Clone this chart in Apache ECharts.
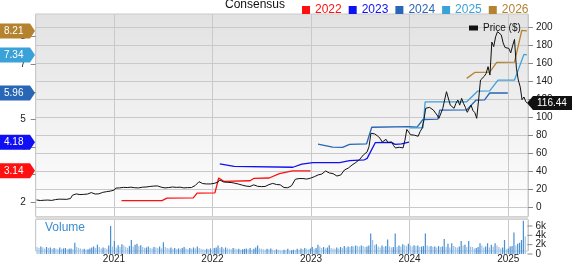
<!DOCTYPE html>
<html><head><meta charset="utf-8">
<script src="https://cdn.jsdelivr.net/npm/echarts@6/dist/echarts.min.js"></script>
<style>html,body{margin:0;padding:0;background:#fff}#c{width:572px;height:264px}</style>
</head><body><div id="c"></div>
<script>
// ---------- DATA ----------
const priceData = [
['2020-03-20',8.6],['2020-03-27',8.2],['2020-04-03',8.0],['2020-04-10',8.7],['2020-04-17',8.3],['2020-04-24',8.9],
['2020-05-01',8.5],['2020-05-08',7.9],['2020-05-15',8.1],['2020-05-22',8.6],['2020-05-29',9.0],['2020-06-05',10.2],
['2020-06-12',9.5],['2020-06-19',9.9],['2020-06-26',9.4],['2020-07-03',9.6],['2020-07-10',9.3],['2020-07-17',9.8],
['2020-07-24',10.2],['2020-07-31',13.8],['2020-08-07',16.0],['2020-08-14',15.3],['2020-08-21',15.0],['2020-08-28',14.6],
['2020-09-04',14.4],['2020-09-11',14.8],['2020-09-18',15.6],['2020-09-25',15.2],['2020-10-02',16.2],['2020-10-09',16.8],
['2020-10-16',16.0],['2020-10-23',15.2],['2020-10-30',14.8],['2020-11-06',15.4],['2020-11-13',16.4],['2020-11-20',17.0],
['2020-11-27',16.6],['2020-12-04',17.8],['2020-12-11',18.6],['2020-12-18',18.4],['2020-12-25',19.6],
['2021-01-01',19.5],['2021-01-08',21.8],['2021-01-15',23.3],['2021-01-22',22.0],['2021-01-29',21.4],['2021-02-05',22.6],
['2021-02-12',21.8],['2021-02-19',22.4],['2021-02-26',21.2],['2021-03-05',22.8],['2021-03-12',21.6],['2021-03-19',22.2],
['2021-03-26',21.4],['2021-04-02',22.0],['2021-04-09',21.7],['2021-04-16',22.8],['2021-04-23',22.2],['2021-04-30',23.0],
['2021-05-07',22.4],['2021-05-14',23.6],['2021-05-21',22.8],['2021-05-28',24.0],['2021-06-04',25.2],['2021-06-11',24.2],
['2021-06-18',23.2],['2021-06-25',22.8],['2021-07-02',23.4],['2021-07-09',22.0],['2021-07-16',21.6],['2021-07-23',22.4],
['2021-07-30',22.0],['2021-08-06',23.0],['2021-08-13',22.2],['2021-08-20',22.6],['2021-08-27',22.0],['2021-09-03',22.8],
['2021-09-10',22.4],['2021-09-17',22.0],['2021-09-24',22.6],['2021-10-01',22.3],['2021-10-08',23.0],['2021-10-15',22.4],
['2021-10-22',23.4],['2021-10-29',24.6],['2021-11-05',26.8],['2021-11-12',28.9],['2021-11-19',27.6],['2021-11-26',26.8],
['2021-12-03',26.0],['2021-12-10',26.4],['2021-12-17',25.6],['2021-12-24',26.4],['2021-12-31',26.6],
['2022-01-07',27.0],['2022-01-14',26.6],['2022-01-21',28.4],['2022-01-28',30.8],['2022-02-04',29.6],['2022-02-11',28.6],
['2022-02-18',28.9],['2022-02-25',28.2],['2022-03-04',29.0],['2022-03-11',28.0],['2022-03-18',27.6],['2022-03-25',27.2],
['2022-04-01',27.0],['2022-04-08',26.2],['2022-04-15',25.4],['2022-04-22',25.0],['2022-04-29',24.2],['2022-05-06',24.0],
['2022-05-13',23.2],['2022-05-20',23.6],['2022-05-27',24.6],['2022-06-03',25.4],['2022-06-10',25.2],['2022-06-17',23.8],
['2022-06-24',24.0],['2022-07-01',23.4],['2022-07-08',23.2],['2022-07-15',23.6],['2022-07-22',24.4],['2022-07-29',25.6],
['2022-08-05',26.4],['2022-08-12',27.0],['2022-08-19',26.6],['2022-08-26',25.8],['2022-09-02',25.0],['2022-09-09',25.4],
['2022-09-16',24.0],['2022-09-23',22.4],['2022-09-30',21.5],['2022-10-07',22.2],['2022-10-14',22.6],['2022-10-21',24.4],
['2022-10-28',26.0],['2022-11-04',31.6],['2022-11-11',32.8],['2022-11-18',32.4],['2022-11-25',33.0],['2022-12-02',32.4],
['2022-12-09',32.0],['2022-12-16',31.8],['2022-12-23',32.4],['2022-12-30',32.8],
['2023-01-06',33.4],['2023-01-13',34.4],['2023-01-20',35.6],['2023-01-27',36.4],['2023-02-03',38.0],['2023-02-10',37.4],
['2023-02-17',39.0],['2023-02-24',40.8],['2023-03-03',40.0],['2023-03-10',38.6],['2023-03-17',37.4],['2023-03-24',37.8],
['2023-03-31',36.6],['2023-04-07',35.2],['2023-04-14',36.0],['2023-04-21',36.3],['2023-04-28',38.2],['2023-05-05',41.9],
['2023-05-12',42.4],['2023-05-19',44.0],['2023-05-26',46.0],['2023-06-02',47.4],['2023-06-09',48.2],['2023-06-16',50.2],
['2023-06-23',51.0],['2023-06-30',53.6],['2023-07-07',55.0],['2023-07-14',58.6],['2023-07-21',59.4],['2023-07-28',62.0],
['2023-08-04',68.0],['2023-08-11',82.7],['2023-08-18',80.8],['2023-08-25',82.0],['2023-09-01',82.7],['2023-09-08',79.0],
['2023-09-15',76.4],['2023-09-22',73.0],['2023-09-29',74.8],['2023-10-06',76.0],['2023-10-13',72.4],['2023-10-20',71.6],
['2023-10-27',73.0],['2023-11-03',69.0],['2023-11-10',66.4],['2023-11-17',66.0],['2023-11-24',67.2],['2023-12-01',65.8],
['2023-12-08',66.4],['2023-12-15',75.0],['2023-12-22',87.0],['2023-12-29',84.0],
['2024-01-05',81.0],['2024-01-12',79.0],['2024-01-19',80.6],['2024-01-26',78.6],['2024-02-02',79.4],['2024-02-09',84.4],
['2024-02-16',88.0],['2024-02-23',97.0],['2024-03-01',110.4],['2024-03-08',109.0],['2024-03-15',111.5],['2024-03-22',110.0],
['2024-03-29',108.6],['2024-04-05',106.7],['2024-04-12',103.0],['2024-04-19',99.3],['2024-04-26',101.0],['2024-05-03',110.0],
['2024-05-10',119.7],['2024-05-17',128.9],['2024-05-24',127.0],['2024-05-31',114.0],['2024-06-07',112.0],['2024-06-14',110.4],
['2024-06-21',116.0],['2024-06-28',119.7],['2024-07-05',114.0],['2024-07-12',121.5],['2024-07-19',116.0],['2024-07-26',111.5],
['2024-08-02',106.0],['2024-08-09',104.9],['2024-08-16',114.0],['2024-08-23',108.0],['2024-08-30',105.6],['2024-09-06',99.3],
['2024-09-13',119.7],['2024-09-20',141.9],['2024-09-27',143.8],['2024-10-04',146.0],['2024-10-11',149.3],['2024-10-18',156.7],
['2024-10-25',147.4],['2024-11-01',184.0],['2024-11-08',179.0],['2024-11-15',190.0],['2024-11-22',195.6],['2024-11-29',196.0],
['2024-12-06',192.0],['2024-12-13',183.0],['2024-12-20',178.0],['2024-12-27',176.0],
['2025-01-03',177.0],['2025-01-10',172.0],['2025-01-17',180.0],['2025-01-24',187.0],['2025-01-31',155.0],['2025-02-07',141.9],
['2025-02-14',134.4],['2025-02-21',120.0],['2025-02-28',123.0],['2025-03-07',117.8],['2025-03-11',116.44]
];

const eps2022 = [['2021-01-29',2.06],['2021-06-28',2.06],['2021-07-16',2.15],['2021-10-22',2.16],['2021-11-05',2.33],
['2022-01-10',2.34],['2022-01-24',2.88],['2022-02-12',2.76],['2022-05-20',2.78],['2022-06-04',2.87],['2022-07-30',2.88],
['2022-09-06',3.04],['2022-10-24',3.14],['2022-12-30',3.14]];
const eps2023 = [['2022-01-28',3.39],['2022-03-22',3.30],['2022-10-26',3.27],['2022-11-28',3.38],['2023-01-08',3.44],
['2023-04-17',3.44],['2023-05-24',3.51],['2023-07-18',3.54],['2023-07-28',3.59],['2023-08-27',4.16],['2023-10-25',4.17],
['2023-11-09',4.10],['2023-12-02',4.12],['2023-12-30',4.18]];
const eps2024 = [['2023-01-27',4.11],['2023-03-22',4.00],['2023-04-28',3.99],['2023-05-24',4.10],['2023-07-26',4.12],
['2023-08-14',4.72],['2023-12-30',4.74],['2024-01-29',4.72],['2024-02-20',5.00],['2024-04-15',5.01],['2024-04-22',5.34],
['2024-07-31',5.35],['2024-09-03',5.70],['2024-10-05',5.71],['2024-10-24',5.96],['2024-12-30',5.96]];
const eps2025 = [['2024-01-03',4.70],['2024-02-20',4.70],['2024-02-28',5.64],['2024-07-31',5.64],['2024-09-10',6.03],
['2024-10-24',6.04],['2024-11-24',6.43],['2025-01-24',6.43],['2025-02-28',7.36],['2025-03-11',7.34]];
const eps2026 = [['2024-07-31',6.49],['2024-08-31',6.71],['2024-10-24',6.72],['2024-11-19',7.07],['2025-01-24',7.08],
['2025-02-20',8.23],['2025-03-11',8.21]];

const volumeStart = '2020-03-20'; // weekly bars
const volumes = [ // thousands
1.5,1.3,1.6,1.4,1.2,1.5,1.3,1.4,1.1,1.3,
1.2,1.0,1.4,1.1,1.2,1.3,1.0,1.1,1.2,1.0,
2.4,1.5,1.3,1.2,1.0,1.1,0.9,1.0,1.2,1.4,
1.6,1.3,2.0,1.5,1.2,1.4,1.3,1.1,1.8,6.0,
1.6,2.8,1.4,1.9,1.5,2.1,1.8,1.5,1.3,1.7,
3.0,1.6,2.0,2.2,1.7,1.9,1.5,1.3,1.4,1.6,
1.3,1.2,1.5,1.4,1.3,1.6,1.2,2.5,1.5,1.3,
1.2,1.4,1.1,1.3,1.0,1.2,1.1,1.3,1.5,1.2,
1.0,1.3,1.1,1.4,1.2,1.6,1.3,1.1,1.0,0.9,
1.1,1.0,1.2,0.9,1.3,1.4,1.8,1.3,1.5,1.2,
1.4,1.2,1.1,1.0,1.3,1.2,1.0,1.1,0.9,1.0,
1.1,1.2,1.0,1.3,0.9,1.1,1.4,1.8,1.2,1.1,
1.0,0.9,1.1,1.0,1.2,0.9,0.8,1.0,0.9,0.8,
0.7,0.9,0.8,1.1,0.7,0.8,0.9,0.8,1.1,0.9,
1.2,1.0,1.3,1.1,1.0,1.2,1.5,1.1,1.3,2.0,
1.6,1.3,1.5,1.2,1.4,1.9,1.3,1.2,1.1,1.4,
1.2,1.5,1.3,1.7,1.4,1.6,1.5,1.7,1.6,1.8,
1.7,1.6,1.8,1.7,1.5,1.6,1.8,4.4,3.0,1.9,
2.1,1.6,1.4,1.8,1.5,1.7,3.1,1.6,1.4,1.5,
4.4,1.5,1.8,1.6,2.1,1.9,1.7,2.2,1.8,1.6,
1.9,1.7,1.8,1.5,1.6,1.7,4.4,1.8,1.6,1.7,
1.5,1.6,1.4,1.7,1.5,1.6,3.2,1.5,2.2,1.4,
2.3,1.7,1.5,1.4,1.6,2.8,1.8,2.0,1.5,2.8,
1.6,1.5,1.2,1.3,1.5,2.3,1.8,1.4,1.6,2.3,
1.4,2.0,1.6,2.3,1.8,1.5,1.2,1.4,3.0,1.0,
1.2,1.6,1.7,4.6,1.8,2.2,2.4,3.0,7.1,3.8
];
const volumeTicks = [0, 2, 4, 6];

const epsYears = ['2022','2023','2024','2025','2026'];
const epsSets = [eps2022, eps2023, eps2024, eps2025, eps2026];
const priceName = 'Price ($)';

// ---------- STYLE ----------
const FONT = '"Liberation Sans", Arial, sans-serif';
const COLORS = ['#ff1010', '#1010f5', '#2866b6', '#3aa2d8', '#b5822f'];
const GRID_C = '#c9c9c9';
const DAY = 86400000;
const ts = s => Date.UTC(+s.slice(0,4), +s.slice(5,7)-1, +s.slice(8,10));
const X_MIN = ts('2020-03-17'), X_MAX = ts('2025-03-15');
const L = 35.7, R = 44;

const baseX = (gi, extra) => Object.assign({
  type: 'time', gridIndex: gi, min: X_MIN, max: X_MAX,
  axisLine: {show: false}, axisTick: {show: false}, axisLabel: {show: false}, splitLine: {show: false}
}, extra || {});
const yearX = (gi, showLabel) => baseX(gi, {
  minInterval: 365 * DAY, splitNumber: 5,
  splitLine: {show: true, lineStyle: {color: GRID_C, width: 1}},
  axisLabel: {show: showLabel, margin: 3, fontFamily: FONT, fontSize: 10, color: '#222',
    showMinLabel: false, showMaxLabel: false,
    formatter: v => { const d = new Date(v); return (d.getUTCMonth() === 0 && d.getUTCDate() === 1) ? String(d.getUTCFullYear()) : ''; }}
});
const dummyY = gi => ({type: 'value', gridIndex: gi, min: 0, max: 1, show: false});

const volData = volumes.map((v, i) => [ts(volumeStart) + i * 7 * DAY, v]);

const epsSeries = epsSets.map((set, i) => ({
  name: epsYears[i], type: 'line', xAxisIndex: 2, yAxisIndex: 2, clip: false,
  data: set.map(d => [ts(d[0]), d[1]]), symbol: 'none', z: 3,
  lineStyle: {color: COLORS[i], width: 1.3}, itemStyle: {color: COLORS[i]}
}));

const flagData = epsSets.map((set, i) => [X_MIN, set[set.length - 1][1], i]);
const lastPrice = priceData[priceData.length - 1];

const option = {
  animation: false,
  useUTC: true,
  backgroundColor: '#fff',
  textStyle: {fontFamily: FONT},
  grid: [
    {left: L, right: R, top: 14, height: 202.5, show: true, borderColor: GRID_C, borderWidth: 1,
      backgroundColor: {type: 'linear', x: 0, y: 0, x2: 0, y2: 1, colorStops: [{offset: 0, color: '#e2e2e2'}, {offset: 1, color: '#ffffff'}]}},
    {left: L, right: R, top: 27.7, height: 180},
    {left: L, right: R, top: 36.7, height: 165.6},
    {left: L, right: R, top: 219.5, height: 34.5, show: true, borderColor: GRID_C, borderWidth: 1, backgroundColor: '#fff'},
    {left: L, right: R, top: 226, height: 28}
  ],
  xAxis: [yearX(0, false), baseX(1), baseX(2), yearX(3, true), baseX(4)],
  yAxis: [
    dummyY(0),
    {type: 'value', gridIndex: 1, position: 'right', min: 0, max: 200, interval: 20,
      axisLine: {show: false}, axisTick: {show: true, length: 5, lineStyle: {color: '#888'}},
      axisLabel: {margin: 8, fontFamily: FONT, fontSize: 10, color: '#222', showMinLabel: true, showMaxLabel: true},
      splitLine: {show: true, lineStyle: {color: GRID_C, width: 1}}},
    {type: 'value', gridIndex: 2, position: 'left', min: 2, max: 8, interval: 1,
      axisLine: {show: false}, axisTick: {show: true, length: 5, lineStyle: {color: '#888'}},
      axisLabel: {margin: 10, fontFamily: FONT, fontSize: 10, color: '#222', showMinLabel: true, showMaxLabel: true},
      splitLine: {show: false}},
    dummyY(3),
    {type: 'value', gridIndex: 4, position: 'right', min: 0, max: 6, interval: 2,
      axisLine: {show: false}, axisTick: {show: false}, axisLabel: {show: false}, splitLine: {show: false}}
  ],
  legend: [
    {data: epsYears.map((y, i) => ({name: y, textStyle: {color: COLORS[i]}})), left: 297, top: -1,
      icon: 'rect', itemWidth: 8, itemHeight: 8, itemGap: 7, selectedMode: false,
      textStyle: {fontFamily: FONT, fontSize: 12}},
    {data: [priceName], left: 464, top: 18, icon: 'rect', itemWidth: 9, itemHeight: 5, itemGap: 5,
      selectedMode: false, textStyle: {fontFamily: FONT, fontSize: 10, color: '#111'}}
  ],
  graphic: [
    {type: 'text', left: 225, top: -1, z: 10, style: {text: 'Consensus', font: '12px ' + FONT, fill: '#111'}},
    {type: 'rect', shape: {x: L, y: 216.5, width: 572 - R - L, height: 3}, style: {fill: '#dcdcdc'}, z: 5},
    {type: 'text', left: 45, top: 222, z: 10, style: {text: 'Volume', font: '12px ' + FONT, fill: '#3a8dd0'}}
  ],
  series: [
    {name: priceName, type: 'line', xAxisIndex: 1, yAxisIndex: 1, symbol: 'none', z: 4,
      data: priceData.map(d => [ts(d[0]), d[1]]), lineStyle: {color: '#111', width: 1}, itemStyle: {color: '#111'}},
    ...epsSeries,
    {name: 'Volume', type: 'bar', xAxisIndex: 4, yAxisIndex: 4, clip: false, barWidth: 1.2,
      data: volData,
      itemStyle: {color: p => (p.dataIndex > 0 && volumes[p.dataIndex] > volumes[p.dataIndex - 1]) ? '#4a8fd0' : '#9cc4ea'}},
    // volume axis ticks + labels, positioned through the volume axis scale
    {type: 'custom', xAxisIndex: 4, yAxisIndex: 4, clip: false, silent: true, z: 20,
      data: volumeTicks.map(v => [X_MAX, v]),
      renderItem: (params, api) => {
        const p = api.coord([api.value(0), api.value(1)]);
        const v = api.value(1);
        return {type: 'group', children: [
          {type: 'line', shape: {x1: p[0], y1: p[1], x2: p[0] + 5, y2: p[1]}, style: {stroke: '#888', lineWidth: 1}},
          {type: 'text', style: {text: v === 0 ? '0' : v + 'k', x: p[0] + 8, y: p[1], verticalAlign: 'middle', fill: '#222', font: '10px ' + FONT}}
        ]};
      }},
    {type: 'custom', xAxisIndex: 2, yAxisIndex: 2, clip: false, silent: true, z: 20,
      data: flagData,
      renderItem: (params, api) => {
        const y = api.coord([api.value(0), api.value(1)])[1];
        const c = COLORS[api.value(2)];
        return {type: 'group', children: [
          {type: 'polygon', shape: {points: [[0, y - 7.5], [30, y - 7.5], [35, y], [30, y + 7.5], [0, y + 7.5]]}, style: {fill: c}},
          {type: 'text', style: {text: api.value(1).toFixed(2), x: 4, y: y, verticalAlign: 'middle', fill: '#fff', font: '10px ' + FONT}}
        ]};
      }},
    {type: 'custom', xAxisIndex: 1, yAxisIndex: 1, clip: false, silent: true, z: 20,
      data: [[ts(lastPrice[0]), lastPrice[1]]],
      renderItem: (params, api) => {
        const y = api.coord([api.value(0), api.value(1)])[1];
        return {type: 'group', children: [
          {type: 'polygon', shape: {points: [[527, y], [533, y - 7], [572, y - 7], [572, y + 7], [533, y + 7]]}, style: {fill: '#111'}},
          {type: 'text', style: {text: api.value(1).toFixed(2), x: 537, y: y, verticalAlign: 'middle', fill: '#fff', font: '10px ' + FONT}}
        ]};
      }}
  ]
};
echarts.init(document.getElementById('c'), null, {renderer: 'canvas'}).setOption(option);
</script>
</body></html>
